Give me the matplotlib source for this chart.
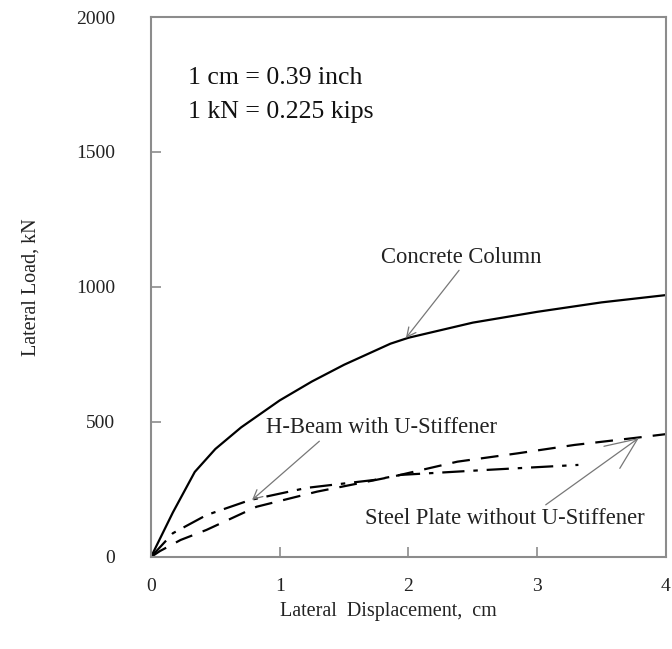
import matplotlib.pyplot as plt

# --------------------------
# data (cm, kN)
# --------------------------

concrete_x = [0, 0.17, 0.34, 0.5, 0.7, 0.85, 1.0, 1.25, 1.5, 1.86, 2.0, 2.5, 3.0, 3.5, 4.0]
concrete_y = [0, 165, 315, 400, 480, 530, 580, 650, 712, 790, 812, 868, 908, 943, 970]

hbeam_x = [0, 0.17, 0.43, 0.77, 1.21, 1.73, 1.94, 2.59, 3.32]
hbeam_y = [0, 88, 155, 211, 256, 285, 304, 322, 341]

plate_x = [0, 0.07, 0.23, 0.43, 0.82, 1.29, 1.9, 2.38, 2.85, 3.29, 3.76, 4.0]
plate_y = [0, 22, 63, 100, 186, 242, 300, 353, 384, 415, 441, 455]

x_ticks = [0, 1, 2, 3, 4]
y_ticks = [0, 500, 1000, 1500, 2000]

plt.rcParams['font.family'] = ['Liberation Serif', 'DejaVu Serif']

fig = plt.figure(figsize=(6.72, 6.49), dpi=100)
ax = fig.add_axes([0.2247, 0.1418, 0.7663, 0.832])

ax.plot(concrete_x, concrete_y, color='black', lw=1.6)
ax.plot(hbeam_x, hbeam_y, color='black', lw=1.6, dashes=[10, 4, 2, 4])
ax.plot(plate_x, plate_y, color='black', lw=1.6, dashes=[8, 5])

ax.set_xlim(0, 4)
ax.set_ylim(0, 2000)
ax.set_xticks(x_ticks)
ax.set_yticks(y_ticks)

for s in ax.spines.values():
    s.set_color('#8c8c8c')
    s.set_linewidth(1.5)
ax.tick_params(direction='in', length=7, width=1.2, color='#8c8c8c',
               labelsize=14, labelcolor='#222222')
ax.tick_params(axis='y', pad=26)
ax.tick_params(axis='x', pad=15)

ax.set_xlabel("Lateral  Displacement,  cm", fontsize=14.5, color='#222222')
ax.set_ylabel("Lateral Load, kN", fontsize=14.5, color='#222222')
ax.xaxis.set_label_coords(0.46, -0.084)
ax.yaxis.set_label_coords(-0.215, 0.5)

# unit conversion note
ax.text(0.29, 1815, "1 cm = 0.39 inch\n1 kN = 0.225 kips", fontsize=18.5,
        color='#111111', va='top', ha='left', linespacing=1.7)

arrow = dict(arrowstyle='->', color='#777777', lw=0.9, shrinkA=0, shrinkB=0)

ax.annotate("Concrete Column", xy=(1.98, 811), xytext=(2.41, 1111),
            fontsize=16.3, color='#222222', ha='center', va='center',
            arrowprops=dict(arrow, relpos=(0.5, 0.0)))

ax.annotate("H-Beam with U-Stiffener", xy=(0.785, 211), xytext=(1.79, 478),
            fontsize=16.3, color='#222222', ha='center', va='center',
            arrowprops=dict(arrow, relpos=(0.245, 0.0)))

ax.annotate("Steel Plate without U-Stiffener", xy=(3.79, 441), xytext=(2.745, 144),
            fontsize=16.3, color='#222222', ha='center', va='center',
            arrowprops=dict(arrow, arrowstyle='->, head_length=1.4, head_width=0.6',
                            relpos=(0.634, 1.0)))

plt.savefig("out.png", dpi=100)
